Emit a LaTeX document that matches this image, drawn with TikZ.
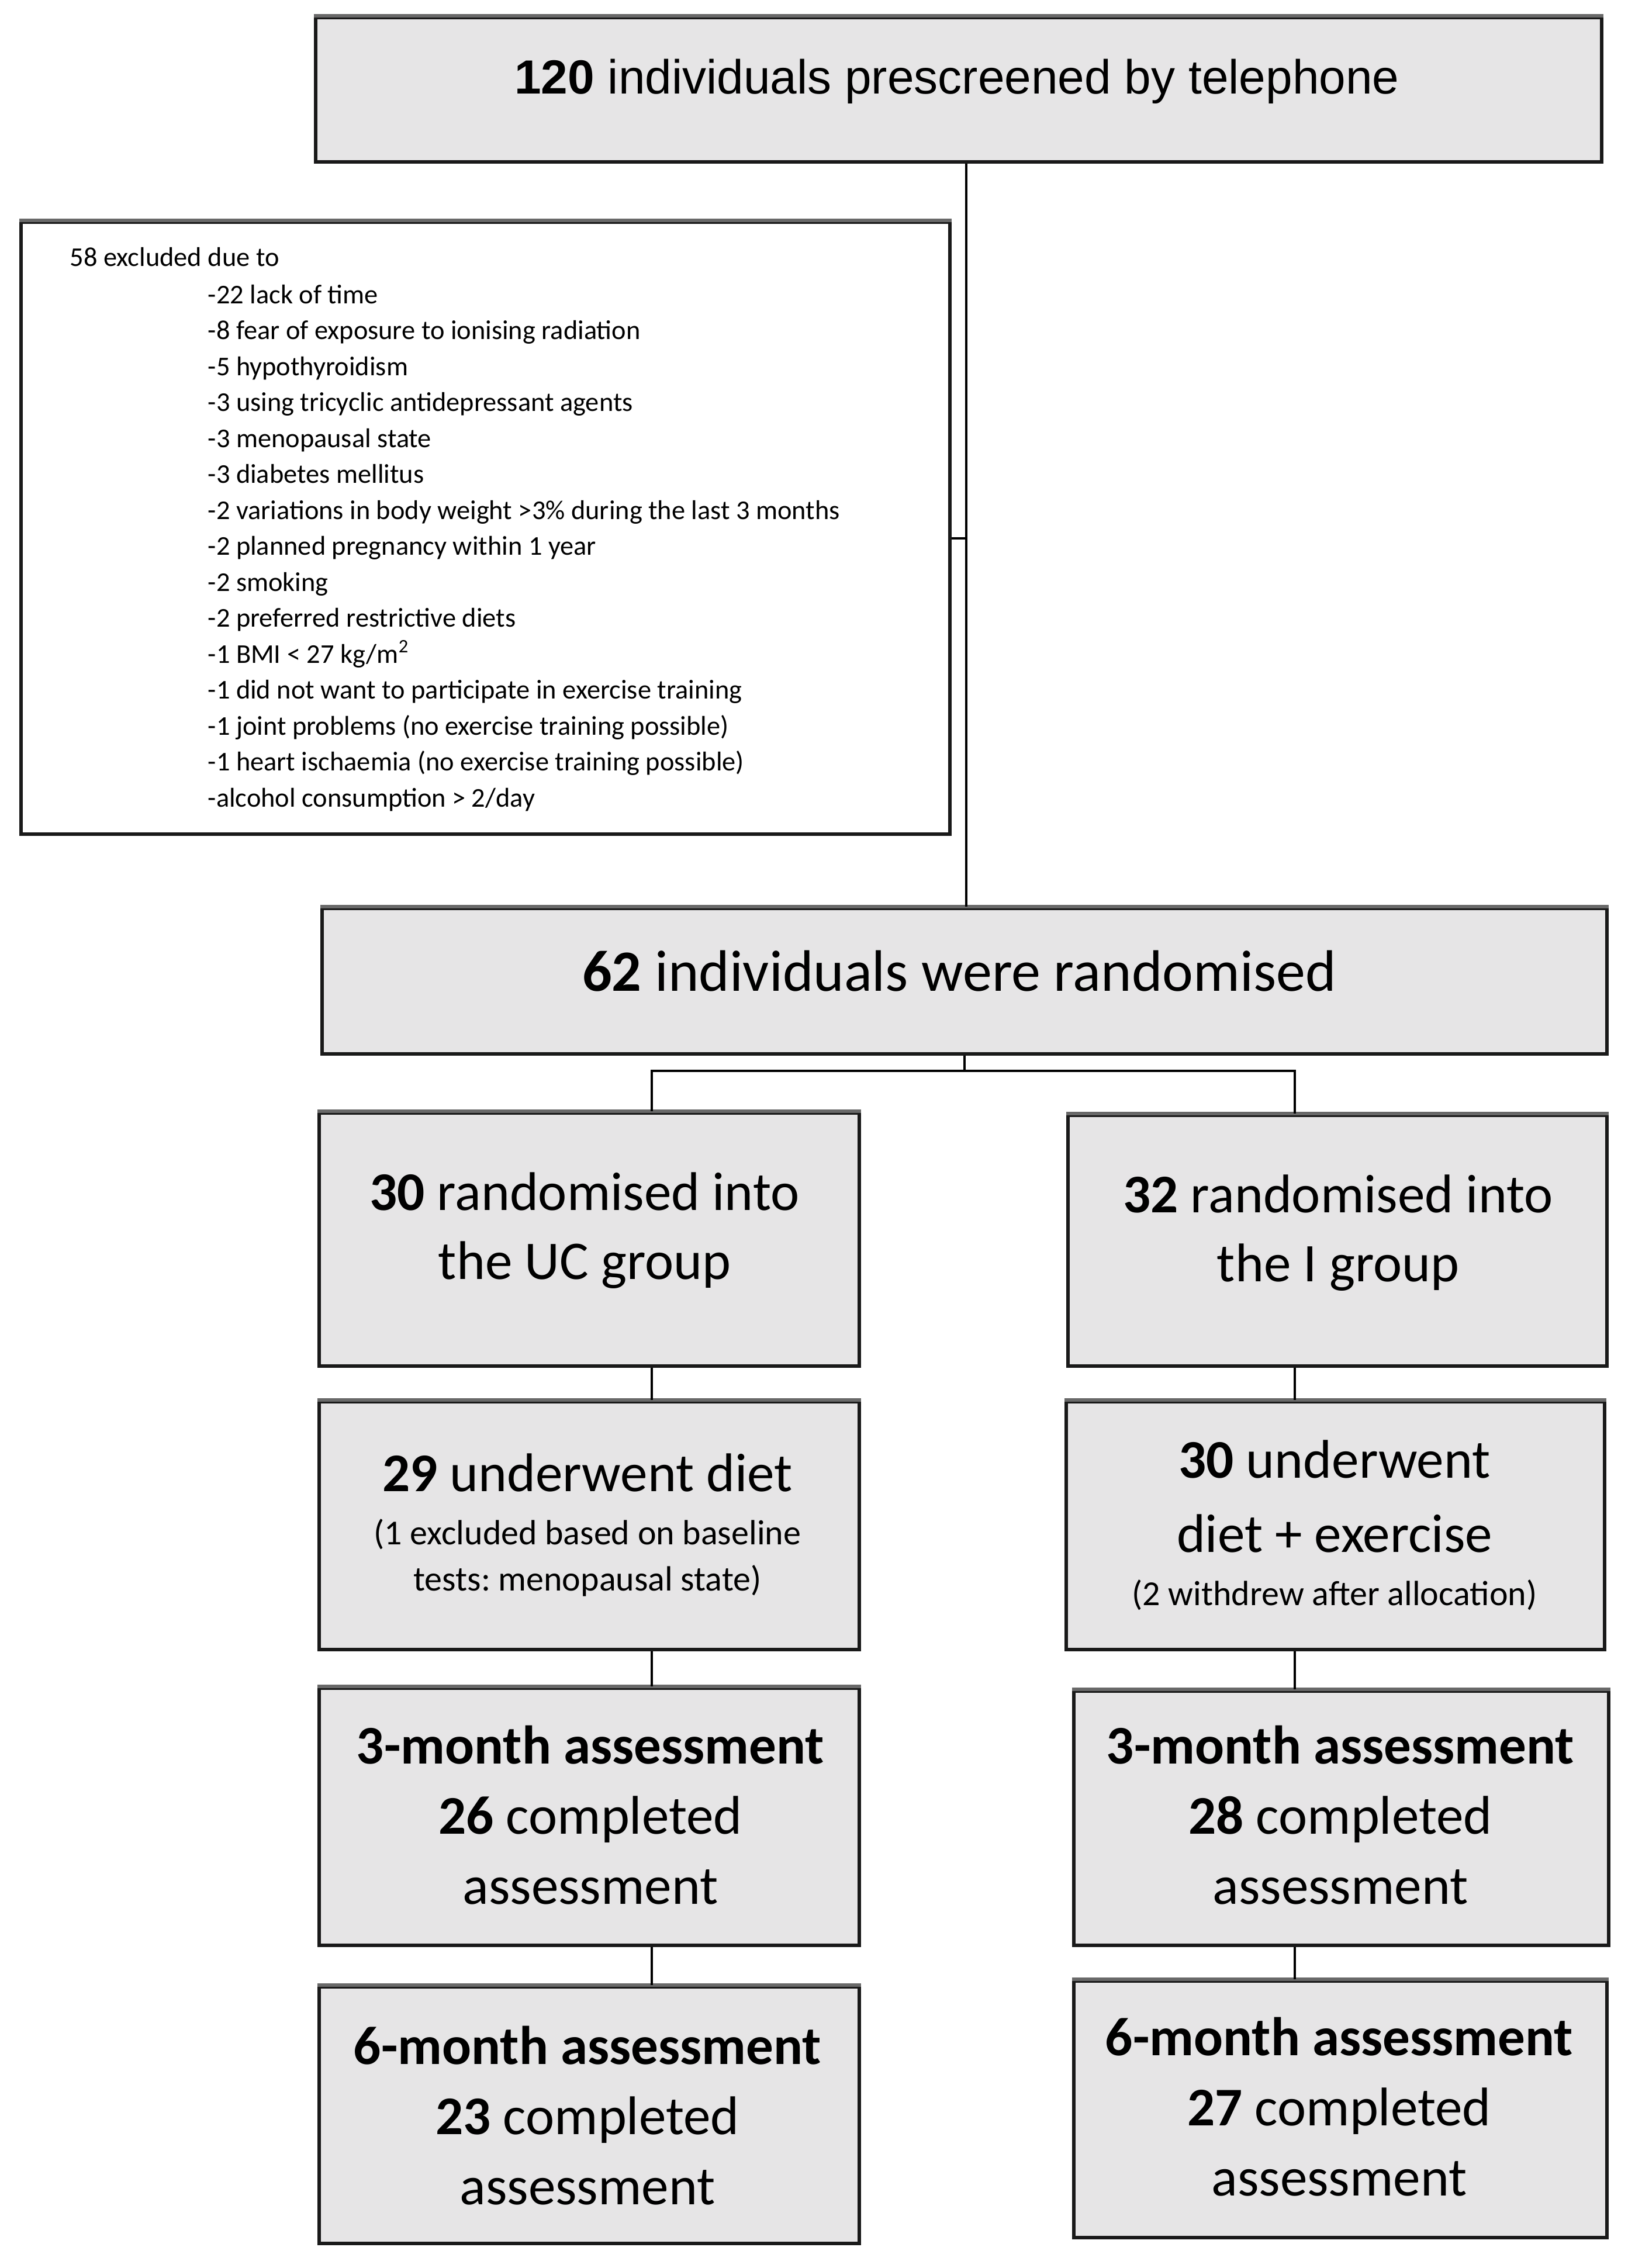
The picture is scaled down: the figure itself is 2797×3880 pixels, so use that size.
\documentclass[tikz,border=0pt]{standalone}
\usepackage{fontspec}
\setmainfont{Carlito}
\newfontfamily\arialfont{Liberation Sans}
\usetikzlibrary{fit}
\definecolor{boxgray}{RGB}{230,229,230}
\definecolor{edgegray}{RGB}{105,105,105}
\definecolor{edgedark}{RGB}{25,25,25}
\frenchspacing
\begin{document}
\begin{tikzpicture}[x=0.25pt,y=-0.25pt,
  box/.style={draw=edgedark, line width=1.6pt, fill=boxgray, inner sep=0pt, rectangle},
  wbox/.style={box, fill=white},
  conn/.style={line width=1pt, draw=black},
  topedge/.style={draw=edgegray, line width=1.6pt},
  txt/.style={inner sep=0pt, anchor=base, font=\fontsize{23.3}{30}\selectfont},
  smalltxt/.style={inner sep=0pt, anchor=base west, font=\fontsize{11.6}{15.375}\selectfont},
]
\useasboundingbox (0,0) rectangle (2797,3880);

% boxes
\node[box, fit={(540,30) (2740,277)}] (top) {};
\node[wbox, fit={(36,380) (1625,1427)}] (excl) {};
\node[box, fit={(551,1554) (2749,1803)}] (rand) {};
\node[box, fit={(546,1904) (1470,2337)}] (uc) {};
\node[box, fit={(1827,1908) (2749,2337)}] (ig) {};
\node[box, fit={(546,2398) (1470,2822)}] (dietl) {};
\node[box, fit={(1824,2398) (2745,2822)}] (dietr) {};
\node[box, fit={(546,2888) (1470,3328)}] (mthreel) {};
\node[box, fit={(1837,2893) (2752,3328)}] (mthreer) {};
\node[box, fit={(546,3399) (1470,3838)}] (msixl) {};
\node[box, fit={(1837,3389) (2749,3828)}] (msixr) {};
\foreach \n in {top,excl,rand,uc,ig,dietl,dietr,mthreel,mthreer,msixl,msixr}
  \draw[topedge] (\n.north west) -- (\n.north east);

% texts
\node[txt, font=\arialfont\fontsize{20.5}{24}\selectfont] (toptxt) at (1637,160) {\textbf{120} individuals prescreened by telephone};
\node[txt, font=\fontsize{25}{30}\selectfont] (randtxt) at (1641,1695) {\textbf{62} individuals were randomised};
\node[txt, font=\fontsize{23.3}{29.5}\selectfont] (uctxt) at (1000,2070) {\begin{tabular}[t]{@{}c@{}}\textbf{30} randomised into\\ the UC group\end{tabular}};
\node[txt, font=\fontsize{23.3}{29.5}\selectfont] (igtxt) at (2289,2074) {\begin{tabular}[t]{@{}c@{}}\textbf{32} randomised into\\ the I group\end{tabular}};
\node[txt, font=\fontsize{23.3}{29.75}\selectfont] (dietltxt) at (1005,2551) {\begin{tabular}[t]{@{}c@{}}\textbf{29} underwent diet\\[-7pt] {\fontsize{15}{18}\selectfont (1 excluded based on baseline}\\[-10pt] {\fontsize{15}{18}\selectfont tests: menopausal state)}\end{tabular}};
\node[txt, font=\fontsize{23.3}{29.75}\selectfont] (dietrtxt) at (2283,2528) {\begin{tabular}[t]{@{}c@{}}\textbf{30} underwent\\[2pt] diet + exercise\\[-7pt] {\fontsize{15}{18}\selectfont (2 withdrew after allocation)}\end{tabular}};
\node[txt] (mthreeltxt) at (1010,3017) {\begin{tabular}[t]{@{}c@{}}\textbf{3-month assessment}\\ \textbf{26} completed\\ assessment\end{tabular}};
\node[txt] (mthreertxt) at (2293,3017) {\begin{tabular}[t]{@{}c@{}}\textbf{3-month assessment}\\ \textbf{28} completed\\ assessment\end{tabular}};
\node[txt] (msixltxt) at (1005,3531) {\begin{tabular}[t]{@{}c@{}}\textbf{6-month assessment}\\ \textbf{23} completed\\ assessment\end{tabular}};
\node[txt] (msixrtxt) at (2291,3516) {\begin{tabular}[t]{@{}c@{}}\textbf{6-month assessment}\\ \textbf{27} completed\\ assessment\end{tabular}};

\node[smalltxt] (excltitle) at (119,455) {58 excluded due to};
\node[smalltxt] (excllist) at (355,519) {\begin{tabular}[t]{@{}l@{}}
-22 lack of time\\
-8 fear of exposure to ionising radiation\\
-5 hypothyroidism\\
-3 using tricyclic antidepressant agents\\
-3 menopausal state\\
-3 diabetes mellitus\\
-2 variations in body weight >3\% during the last 3 months\\
-2 planned pregnancy within 1 year\\
-2 smoking\\
-2 preferred restrictive diets\\
-1 BMI < 27 kg/m\textsuperscript{2}\\
-1 did not want to participate in exercise training\\
-1 joint problems (no exercise training possible)\\
-1 heart ischaemia (no exercise training possible)\\
-alcohol consumption > 2/day
\end{tabular}};

% connectors
\coordinate (tx) at (1653,0);
\coordinate (sp) at (1650,1832);
\coordinate (lx) at (1115,0);
\coordinate (rx) at (2215,0);
\draw[conn] (top.south -| tx) -- (rand.north -| tx);
\draw[conn] ([yshift=-4.4pt]excl.east) -- ([yshift=-4.4pt]excl.east -| tx);
\draw[conn] (rand.south -| sp) -- (sp);
\draw[conn] (uc.north -| lx) -- (lx |- sp) -- (rx |- sp) -- (ig.north -| rx);
\draw[conn] (uc.south -| lx) -- (dietl.north -| lx);
\draw[conn] (ig.south -| rx) -- (dietr.north -| rx);
\draw[conn] (dietl.south -| lx) -- (mthreel.north -| lx);
\draw[conn] (dietr.south -| rx) -- (mthreer.north -| rx);
\draw[conn] (mthreel.south -| lx) -- (msixl.north -| lx);
\draw[conn] (mthreer.south -| rx) -- (msixr.north -| rx);
\end{tikzpicture}
\end{document}
